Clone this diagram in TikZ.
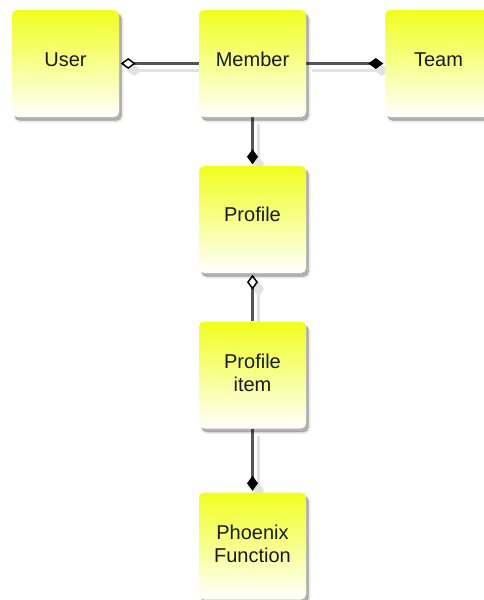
\documentclass[tikz,border=0pt]{standalone}
\usepackage{fontspec}
\setmainfont{Liberation Sans}
\usetikzlibrary{arrows.meta,shadows}

\definecolor{boxtop}{RGB}{240,255,30}
\definecolor{boxmid}{RGB}{247,255,140}
\definecolor{linkgray}{RGB}{85,85,85}
\definecolor{ghost}{RGB}{226,226,226}
\definecolor{ink}{RGB}{25,25,25}

\pgfdeclarelayer{paper}
\pgfdeclarelayer{links}
\pgfsetlayers{paper,links,main}

\tikzset{
  classbox/.style={rectangle, rounded corners=5pt, inner sep=0pt,
    minimum width=107pt, minimum height=107pt,
    top color=boxtop, bottom color=white, middle color=boxmid,
    general shadow={fill=black, fill opacity=0.10, draw=black, draw opacity=0.07,
      line width=3pt, shadow xshift=3pt, shadow yshift=-4pt},
    general shadow={fill=black, fill opacity=0.22,
      shadow xshift=2.5pt, shadow yshift=-3.5pt}},
  classname/.style={font=\fontsize{20pt}{23pt}\selectfont, text=ink,
    align=center, inner sep=0pt},
  link/.style={draw=linkgray, line width=2.2pt, shorten >=1.5pt},
  linkshadow/.style={draw=ghost, line width=2.2pt, shorten >=1.5pt,
    transform canvas={shift={(6,7)}}},
  aggtip/.style={-{Diamond[length=15pt, width=11pt, fill=white, color=black, line width=1.5pt]}},
  comptip/.style={-{Diamond[length=15pt, width=11pt, color=black, fill=black]}},
  ghosttip/.style={-{Diamond[length=15pt, width=11pt, fill=ghost]}},
}

\begin{document}
\begin{tikzpicture}[x=1pt, y=-1pt]
  \useasboundingbox (0,0) rectangle (483,600);
  \begin{pgfonlayer}{paper}
    \fill[white] (0,0) rectangle (483,600);
  \end{pgfonlayer}

  % classes
  \node[classbox] (user)    at (65.5,63.5)  {};
  \node[classbox] (member)  at (252.5,63.5) {};
  \node[classbox] (team)    at (438.5,63.5) {};
  \node[classbox] (profile) at (252.5,219.5) {};
  \node[classbox] (item)    at (252.5,375)  {};
  \node[classbox] (phoenix) at (252.5,546)  {};

  % class names
  \node[classname, anchor=base] (userT)    at ([yshift=-2.5pt]user.center)    {User};
  \node[classname, anchor=base] (memberT)  at ([yshift=-2.5pt]member.center)  {Member};
  \node[classname, anchor=base] (teamT)    at ([yshift=-2.5pt]team.center)    {Team};
  \node[classname, anchor=base] (profileT) at ([yshift=-2pt]profile.center)   {Profile};
  \node[classname] (itemT)    at ([yshift=2.5pt]item.center)    {Profile\\item};
  \node[classname] (phoenixT) at ([yshift=2pt]phoenix.center)   {Phoenix\\Function};

  % associations with their soft shadows
  \begin{pgfonlayer}{links}
    \draw[linkshadow, ghosttip] (member) -- (user);
    \draw[linkshadow, ghosttip] (member) -- (team);
    \draw[linkshadow, ghosttip] (member) -- (profile);
    \draw[linkshadow, ghosttip] (item) -- (profile);
    \draw[linkshadow, ghosttip] (item) -- (phoenix);

    \draw[link, aggtip]  (member) -- (user);
    \draw[link, comptip] (member) -- (team);
    \draw[link, comptip] (member) -- (profile);
    \draw[link, aggtip]  (item) -- (profile);
    \draw[link, comptip] (item) -- (phoenix);
  \end{pgfonlayer}
\end{tikzpicture}
\end{document}
